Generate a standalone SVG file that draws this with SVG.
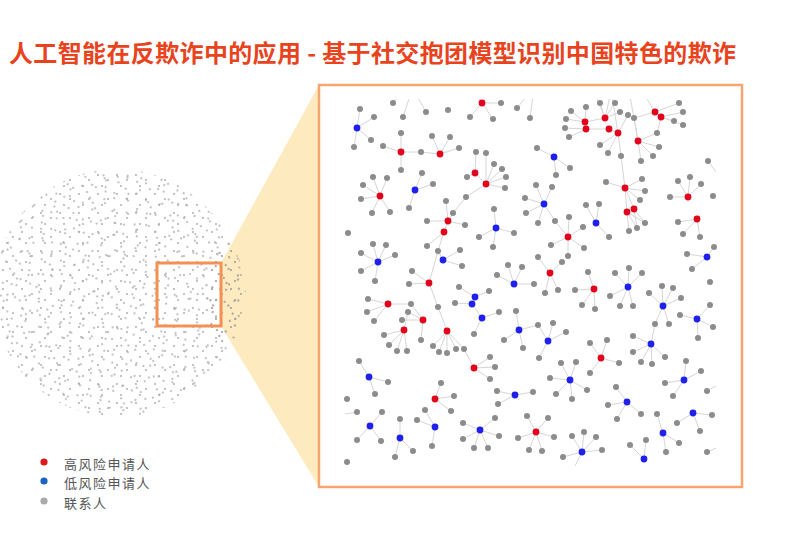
<svg xmlns="http://www.w3.org/2000/svg" width="800" height="534" viewBox="0 0 800 534">
<style>
.title{font-family:"Noto Sans CJK SC","Noto Sans CJK JP",sans-serif;font-size:24px;font-weight:700;fill:#e8431d}
.leg{font-family:"Noto Sans CJK SC","Noto Sans CJK JP",sans-serif;font-size:13px;fill:#555;letter-spacing:1.5px}
.e path{fill:none;stroke:#d6d6d6;stroke-width:1}
.g{fill:#8c8c8c}
.r{fill:#e2001a}
.b{fill:#2020ee}
.pd{fill:#aca6a4}
</style>
<defs>
<pattern id="pa" width="19" height="19" patternUnits="userSpaceOnUse">
<circle class="pd" cx="3" cy="4" r="0.9"/><circle class="pd" cx="13" cy="9" r="0.9"/><circle class="pd" cx="7" cy="15" r="0.9"/>
</pattern>
<pattern id="pb" width="26" height="26" patternUnits="userSpaceOnUse" patternTransform="rotate(31)">
<circle class="pd" cx="5" cy="2" r="0.9"/><circle class="pd" cx="18" cy="7" r="0.9"/><circle class="pd" cx="10" cy="13" r="0.9"/><circle class="pd" cx="23" cy="19" r="0.9"/><circle class="pd" cx="2" cy="22" r="0.9"/>
</pattern>
<pattern id="pc" width="33" height="33" patternUnits="userSpaceOnUse" patternTransform="rotate(-17)">
<circle class="pd" cx="4" cy="9" r="0.9"/><circle class="pd" cx="15" cy="3" r="0.9"/><circle class="pd" cx="27" cy="11" r="0.9"/><circle class="pd" cx="20" cy="20" r="0.9"/><circle class="pd" cx="8" cy="27" r="0.9"/><circle class="pd" cx="30" cy="29" r="0.9"/><circle class="pd" cx="12" cy="16" r="0.9"/>
</pattern>
<clipPath id="gc"><rect x="342" y="99" width="376" height="372"/></clipPath>
</defs>
<rect width="800" height="534" fill="#fff"/>
<text class="title" x="9" y="62" textLength="727" lengthAdjust="spacing">人工智能在反欺诈中的应用 - 基于社交抱团模型识别中国特色的欺诈</text>

<g id="cone"><polygon points="221,263 319,85 319,487 221,326" fill="#fdeabf"/></g>

<g id="overview">
<circle cx="117" cy="293" r="124" fill="url(#pa)"/>
<circle cx="117" cy="293" r="124" fill="url(#pb)"/>
<circle cx="117" cy="293" r="124" fill="url(#pc)"/>
<ellipse cx="226" cy="295" rx="20" ry="48" fill="url(#pa)"/>
<ellipse cx="226" cy="295" rx="20" ry="48" fill="url(#pb)"/>
<ellipse cx="226" cy="295" rx="20" ry="48" fill="url(#pc)"/>
<rect x="157" y="263" width="64" height="63" fill="none" stroke="#f39155" stroke-width="3"/>
</g>

<g id="zoom-frame"><rect x="319" y="85" width="423" height="402" fill="#fff" stroke="#f6a56e" stroke-width="2.5"/></g>

<g id="connectors" class="e" clip-path="url(#gc)">
<path d="M357 128L360 109M357 128L374 117M357 128L371 140M357 128L354 147"/>
<path d="M393 103L397 96M403 117L410 96M426 112L417 96"/>
<path d="M482 103L470 117M482 103L493 119M482 103L501 103M482 103L478 96M517 108L527 96M530 118L533 96"/>
<path d="M401 152L401 133M401 152L383 146M401 152L401 170M401 152L421 152"/>
<path d="M440 154L432 136M440 154L450 137M440 154L459 148M440 154L421 152"/>
<path d="M380 196L373 177M380 196L387 178M380 196L363 185M380 196L361 199M380 196L372 213M380 196L390 212"/>
<path d="M415 190L422 173M415 190L433 184M415 190L409 208"/>
<path d="M475 173L476 152M475 173L467 177M475 173L486 184M486 184L486 153M486 184L494 164M486 184L502 169M486 184L506 177M486 184L505 188M486 184L466 197L453 213L448 221"/>
<path d="M448 221L446 201M448 221L427 221M448 221L465 225M448 221L444 232L438 251L429 283M444 232L427 246"/>
<path d="M443 260L460 250M443 260L462 266M443 260L438 251"/>
<path d="M378 262L373 244M378 262L386 245M378 262L395 255M378 262L361 253M378 262L361 271M378 262L375 281"/>
<path d="M496 228L494 209M496 228L514 233M496 228L479 237M496 228L493 247"/>
<path d="M554 157L537 148M554 157L570 168M554 157L556 175"/>
<path d="M544 204L536 185M544 204L552 187M544 204L525 198M544 204L526 213M544 204L538 223M544 204L555 221L568 237"/>
<path d="M568 237L569 217M568 237L583 227M568 237L584 248M568 237L568 256M568 237L551 245"/>
<path d="M596 223L586 205M596 223L599 204M596 223L609 237"/>
<path d="M550 273L538 257M550 273L545 293M550 273L558 290M550 273L562 262"/>
<path d="M514 284L508 265M514 284L522 267M514 284L497 275M514 284L534 284"/>
<path d="M594 289L588 272M594 289L575 290M594 289L582 305M594 289L595 309"/>
<path d="M628 287L615 273M628 287L629 268M628 287L642 273M628 287L610 296M628 287L620 306M628 287L633 306"/>
<path d="M585 122L571 111M585 122L586 107M585 122L566 119M585 122L605 118M585 122L586 129M586 129L565 128M586 129L569 137M586 129L609 129M605 118L600 103M605 118L615 103M605 118L620 112M605 118L596 96M605 118L610 96M609 129L618 133M618 133L600 145M618 133L608 153M618 133L621 156M618 133L628 115M618 133L612 96M638 141L634 118M638 141L657 133M638 141L659 147M638 141L653 156M638 141L641 161M638 141L630 96M634 118L655 112M655 112L679 103M655 112L645 96M655 112L661 117M661 117L674 121M661 117L683 112M661 117L683 125M661 117L657 133M621 156L625 188"/>
<path d="M625 188L606 182M625 188L642 179M625 188L645 191M625 188L640 200M625 188L627 212M625 188L634 209M627 212L629 231M627 212L637 228M634 209L637 228M634 209L645 223M627 212L645 223"/>
<path d="M688 197L678 181M688 197L690 177M688 197L701 184M688 197L670 197"/>
<path d="M697 219L678 222M697 219L683 234M697 219L700 237M708 161L716 172"/>
<path d="M707 257L687 254M707 257L692 269M707 257L714 247"/>
<path d="M429 283L409 284M429 283L412 271M429 283L438 307L447 331"/>
<path d="M388 304L368 299M388 304L367 312M388 304L374 321M388 304L411 304"/>
<path d="M423 320L408 312M423 320L402 320M423 320L421 340M423 320L411 304"/>
<path d="M404 330L384 335M404 330L389 345M404 330L397 351M404 330L407 351M404 330L408 312"/>
<path d="M447 331L433 346M447 331L439 352M447 331L447 353M447 331L456 349M447 331L464 349L474 368"/>
<path d="M474 368L490 357M474 368L495 367M474 368L490 379"/>
<path d="M475 297L459 287M475 297L489 291M472 304L455 303M472 304L482 318M482 318L499 312M482 318L474 334M475 297L472 304"/>
<path d="M519 330L516 311M519 330L504 340M519 330L523 348M519 330L538 325"/>
<path d="M548 341L553 323M548 341L566 332M548 341L539 358M548 341L538 325"/>
<path d="M663 306L649 293M663 306L662 286M663 306L673 288M663 306L681 298M663 306L669 324M663 306L655 324L651 344"/>
<path d="M651 344L633 336M651 344L633 352M651 344L641 362M651 344L652 364M651 344L665 357"/>
<path d="M697 319L680 315M697 319L710 305M697 319L713 327M697 319L698 338"/>
<path d="M601 358L590 343M601 358L607 340M601 358L619 363M601 358L590 373"/>
<path d="M570 380L561 363M570 380L576 362M570 380L550 378M570 380L556 394M570 380L572 399M570 380L587 390"/>
<path d="M369 377L359 361M369 377L388 382M369 377L375 394"/>
<path d="M435 399L441 383M435 399L454 396M435 399L451 411"/>
<path d="M515 395L497 391M515 395L533 392M515 395L498 404"/>
<path d="M684 380L686 361M684 380L701 371M684 380L665 383M684 380L673 396M707 391L716 386"/>
<path d="M627 402L616 387M627 402L608 405M627 402L617 419M627 402L641 414"/>
<path d="M693 413L712 415M693 413L677 423M693 413L700 431"/>
<path d="M663 433L657 414M663 433L679 443M663 433L666 452"/>
<path d="M357 412L345 414M370 426L382 412M370 426L357 440M370 426L381 441"/>
<path d="M400 438L400 419M400 438L413 451M400 438L395 457"/>
<path d="M435 427L417 420M435 427L425 410M435 427L432 446"/>
<path d="M480 430L495 418M480 430L463 423M480 430L499 436M480 430L463 439M480 430L474 448M480 430L488 448"/>
<path d="M536 432L527 416M536 432L548 418M536 432L518 438M536 432L554 437M536 432L529 450M536 432L542 451"/>
<path d="M582 452L572 436M582 452L584 432M582 452L596 437M582 452L602 450M582 452L563 457M582 452L575 466"/>
<path d="M644 459L630 445M644 459L646 440M707 452L716 448"/>
</g>

<g id="nodes" clip-path="url(#gc)">
<g id="n01"><circle class="b" cx="357" cy="128" r="3.4"/><circle class="g" cx="360" cy="109" r="3"/><circle class="g" cx="374" cy="117" r="3"/><circle class="g" cx="371" cy="140" r="3"/><circle class="g" cx="354" cy="147" r="3"/></g>
<g id="n02"><circle class="g" cx="393" cy="103" r="3"/><circle class="g" cx="403" cy="117" r="3"/><circle class="g" cx="426" cy="112" r="3"/><circle class="g" cx="448" cy="110" r="3"/><circle class="g" cx="517" cy="108" r="3"/><circle class="g" cx="530" cy="118" r="3"/></g>
<g id="n03"><circle class="r" cx="482" cy="103" r="3.4"/><circle class="g" cx="470" cy="117" r="3"/><circle class="g" cx="493" cy="119" r="3"/><circle class="g" cx="501" cy="103" r="3"/></g>
<g id="n04"><circle class="r" cx="401" cy="152" r="3.4"/><circle class="g" cx="401" cy="133" r="3"/><circle class="g" cx="383" cy="146" r="3"/><circle class="g" cx="401" cy="170" r="3"/><circle class="g" cx="421" cy="152" r="3"/></g>
<g id="n05"><circle class="r" cx="440" cy="154" r="3.4"/><circle class="g" cx="432" cy="136" r="3"/><circle class="g" cx="450" cy="137" r="3"/><circle class="g" cx="459" cy="148" r="3"/></g>
<g id="n06"><circle class="r" cx="380" cy="196" r="3.4"/><circle class="g" cx="373" cy="177" r="3"/><circle class="g" cx="387" cy="178" r="3"/><circle class="g" cx="363" cy="185" r="3"/><circle class="g" cx="361" cy="199" r="3"/><circle class="g" cx="372" cy="213" r="3"/><circle class="g" cx="390" cy="212" r="3"/></g>
<g id="n07"><circle class="b" cx="415" cy="190" r="3.4"/><circle class="g" cx="422" cy="173" r="3"/><circle class="g" cx="433" cy="184" r="3"/><circle class="g" cx="409" cy="208" r="3"/></g>
<g id="n08"><circle class="g" cx="476" cy="152" r="3"/><circle class="g" cx="467" cy="177" r="3"/><circle class="g" cx="486" cy="153" r="3"/><circle class="g" cx="494" cy="164" r="3"/><circle class="g" cx="502" cy="169" r="3"/><circle class="g" cx="506" cy="177" r="3"/><circle class="g" cx="505" cy="188" r="3"/><circle class="g" cx="466" cy="197" r="3"/><circle class="g" cx="453" cy="213" r="3"/><circle class="r" cx="475" cy="173" r="3.4"/><circle class="r" cx="486" cy="184" r="3.4"/></g>
<g id="n09"><circle class="g" cx="446" cy="201" r="3"/><circle class="g" cx="427" cy="221" r="3"/><circle class="g" cx="465" cy="225" r="3"/><circle class="g" cx="427" cy="246" r="3"/><circle class="g" cx="438" cy="251" r="3"/><circle class="r" cx="448" cy="221" r="3.4"/><circle class="r" cx="444" cy="232" r="3.4"/></g>
<g id="n10"><circle class="b" cx="443" cy="260" r="3.4"/><circle class="g" cx="460" cy="250" r="3"/><circle class="g" cx="462" cy="266" r="3"/></g>
<g id="n11"><circle class="g" cx="348" cy="233" r="3"/></g>
<g id="n12"><circle class="b" cx="378" cy="262" r="3.4"/><circle class="g" cx="373" cy="244" r="3"/><circle class="g" cx="386" cy="245" r="3"/><circle class="g" cx="395" cy="255" r="3"/><circle class="g" cx="361" cy="253" r="3"/><circle class="g" cx="361" cy="271" r="3"/><circle class="g" cx="375" cy="281" r="3"/></g>
<g id="n13"><circle class="b" cx="496" cy="228" r="3.4"/><circle class="g" cx="494" cy="209" r="3"/><circle class="g" cx="514" cy="233" r="3"/><circle class="g" cx="479" cy="237" r="3"/><circle class="g" cx="493" cy="247" r="3"/></g>
<g id="n14"><circle class="b" cx="554" cy="157" r="3.4"/><circle class="g" cx="537" cy="148" r="3"/><circle class="g" cx="570" cy="168" r="3"/><circle class="g" cx="556" cy="175" r="3"/></g>
<g id="n15"><circle class="b" cx="544" cy="204" r="3.4"/><circle class="g" cx="536" cy="185" r="3"/><circle class="g" cx="552" cy="187" r="3"/><circle class="g" cx="525" cy="198" r="3"/><circle class="g" cx="526" cy="213" r="3"/><circle class="g" cx="538" cy="223" r="3"/><circle class="g" cx="555" cy="221" r="3"/></g>
<g id="n16"><circle class="r" cx="568" cy="237" r="3.4"/><circle class="g" cx="569" cy="217" r="3"/><circle class="g" cx="583" cy="227" r="3"/><circle class="g" cx="584" cy="248" r="3"/><circle class="g" cx="568" cy="256" r="3"/><circle class="g" cx="551" cy="245" r="3"/></g>
<g id="n17"><circle class="b" cx="596" cy="223" r="3.4"/><circle class="g" cx="586" cy="205" r="3"/><circle class="g" cx="599" cy="204" r="3"/><circle class="g" cx="609" cy="237" r="3"/></g>
<g id="n18"><circle class="r" cx="550" cy="273" r="3.4"/><circle class="g" cx="538" cy="257" r="3"/><circle class="g" cx="545" cy="293" r="3"/><circle class="g" cx="558" cy="290" r="3"/><circle class="g" cx="562" cy="262" r="3"/></g>
<g id="n19"><circle class="b" cx="514" cy="284" r="3.4"/><circle class="g" cx="508" cy="265" r="3"/><circle class="g" cx="522" cy="267" r="3"/><circle class="g" cx="497" cy="275" r="3"/><circle class="g" cx="534" cy="284" r="3"/></g>
<g id="n20"><circle class="r" cx="594" cy="289" r="3.4"/><circle class="g" cx="588" cy="272" r="3"/><circle class="g" cx="575" cy="290" r="3"/><circle class="g" cx="582" cy="305" r="3"/><circle class="g" cx="595" cy="309" r="3"/></g>
<g id="n21"><circle class="b" cx="628" cy="287" r="3.4"/><circle class="g" cx="615" cy="273" r="3"/><circle class="g" cx="629" cy="268" r="3"/><circle class="g" cx="642" cy="273" r="3"/><circle class="g" cx="610" cy="296" r="3"/><circle class="g" cx="620" cy="306" r="3"/><circle class="g" cx="633" cy="306" r="3"/></g>
<g id="n22"><circle class="g" cx="571" cy="111" r="3"/><circle class="g" cx="586" cy="107" r="3"/><circle class="g" cx="566" cy="119" r="3"/><circle class="g" cx="565" cy="128" r="3"/><circle class="g" cx="569" cy="137" r="3"/><circle class="g" cx="600" cy="103" r="3"/><circle class="g" cx="615" cy="103" r="3"/><circle class="g" cx="620" cy="112" r="3"/><circle class="g" cx="628" cy="115" r="3"/><circle class="g" cx="634" cy="118" r="3"/><circle class="g" cx="600" cy="145" r="3"/><circle class="g" cx="608" cy="153" r="3"/><circle class="g" cx="621" cy="156" r="3"/><circle class="g" cx="657" cy="133" r="3"/><circle class="g" cx="659" cy="147" r="3"/><circle class="g" cx="653" cy="156" r="3"/><circle class="g" cx="641" cy="161" r="3"/><circle class="g" cx="674" cy="121" r="3"/><circle class="g" cx="683" cy="112" r="3"/><circle class="g" cx="683" cy="125" r="3"/><circle class="g" cx="679" cy="103" r="3"/><circle class="r" cx="585" cy="122" r="3.4"/><circle class="r" cx="586" cy="129" r="3.4"/><circle class="r" cx="605" cy="118" r="3.4"/><circle class="r" cx="609" cy="129" r="3.4"/><circle class="r" cx="618" cy="133" r="3.4"/><circle class="r" cx="638" cy="141" r="3.4"/><circle class="r" cx="655" cy="112" r="3.4"/><circle class="r" cx="661" cy="117" r="3.4"/></g>
<g id="n23"><circle class="g" cx="606" cy="182" r="3"/><circle class="g" cx="642" cy="179" r="3"/><circle class="g" cx="645" cy="191" r="3"/><circle class="g" cx="640" cy="200" r="3"/><circle class="g" cx="629" cy="231" r="3"/><circle class="g" cx="637" cy="228" r="3"/><circle class="g" cx="645" cy="223" r="3"/><circle class="r" cx="625" cy="188" r="3.4"/><circle class="r" cx="627" cy="212" r="3.4"/><circle class="r" cx="634" cy="209" r="3.4"/></g>
<g id="n24"><circle class="r" cx="688" cy="197" r="3.4"/><circle class="g" cx="678" cy="181" r="3"/><circle class="g" cx="690" cy="177" r="3"/><circle class="g" cx="701" cy="184" r="3"/><circle class="g" cx="670" cy="197" r="3"/></g>
<g id="n25"><circle class="r" cx="697" cy="219" r="3.4"/><circle class="g" cx="678" cy="222" r="3"/><circle class="g" cx="683" cy="234" r="3"/><circle class="g" cx="700" cy="237" r="3"/><circle class="g" cx="708" cy="161" r="3"/><circle class="g" cx="713" cy="196" r="3"/></g>
<g id="n26"><circle class="b" cx="707" cy="257" r="3.4"/><circle class="g" cx="687" cy="254" r="3"/><circle class="g" cx="692" cy="269" r="3"/><circle class="g" cx="714" cy="247" r="3"/><circle class="g" cx="710" cy="282" r="3"/></g>
<g id="n27"><circle class="r" cx="429" cy="283" r="3.4"/><circle class="g" cx="409" cy="284" r="3"/><circle class="g" cx="412" cy="271" r="3"/><circle class="g" cx="438" cy="307" r="3"/></g>
<g id="n28"><circle class="g" cx="368" cy="299" r="3"/><circle class="g" cx="367" cy="312" r="3"/><circle class="g" cx="374" cy="321" r="3"/><circle class="g" cx="411" cy="304" r="3"/><circle class="r" cx="388" cy="304" r="3.4"/></g>
<g id="n29"><circle class="g" cx="408" cy="312" r="3"/><circle class="g" cx="402" cy="320" r="3"/><circle class="g" cx="421" cy="340" r="3"/><circle class="r" cx="423" cy="320" r="3.4"/></g>
<g id="n30"><circle class="g" cx="384" cy="335" r="3"/><circle class="g" cx="389" cy="345" r="3"/><circle class="g" cx="397" cy="351" r="3"/><circle class="g" cx="407" cy="351" r="3"/><circle class="r" cx="404" cy="330" r="3.4"/></g>
<g id="n31"><circle class="g" cx="433" cy="346" r="3"/><circle class="g" cx="439" cy="352" r="3"/><circle class="g" cx="447" cy="353" r="3"/><circle class="g" cx="456" cy="349" r="3"/><circle class="g" cx="464" cy="349" r="3"/><circle class="r" cx="447" cy="331" r="3.4"/></g>
<g id="n32"><circle class="r" cx="474" cy="368" r="3.4"/><circle class="g" cx="490" cy="357" r="3"/><circle class="g" cx="495" cy="367" r="3"/><circle class="g" cx="490" cy="379" r="3"/></g>
<g id="n33"><circle class="g" cx="459" cy="287" r="3"/><circle class="g" cx="489" cy="291" r="3"/><circle class="g" cx="455" cy="303" r="3"/><circle class="g" cx="499" cy="312" r="3"/><circle class="g" cx="474" cy="334" r="3"/><circle class="b" cx="475" cy="297" r="3.4"/><circle class="b" cx="472" cy="304" r="3.4"/><circle class="b" cx="482" cy="318" r="3.4"/></g>
<g id="n34"><circle class="b" cx="519" cy="330" r="3.4"/><circle class="g" cx="516" cy="311" r="3"/><circle class="g" cx="504" cy="340" r="3"/><circle class="g" cx="523" cy="348" r="3"/><circle class="g" cx="538" cy="325" r="3"/></g>
<g id="n35"><circle class="b" cx="548" cy="341" r="3.4"/><circle class="g" cx="553" cy="323" r="3"/><circle class="g" cx="566" cy="332" r="3"/><circle class="g" cx="539" cy="358" r="3"/></g>
<g id="n36"><circle class="b" cx="663" cy="306" r="3.4"/><circle class="g" cx="649" cy="293" r="3"/><circle class="g" cx="662" cy="286" r="3"/><circle class="g" cx="673" cy="288" r="3"/><circle class="g" cx="681" cy="298" r="3"/><circle class="g" cx="669" cy="324" r="3"/><circle class="g" cx="655" cy="324" r="3"/></g>
<g id="n37"><circle class="b" cx="651" cy="344" r="3.4"/><circle class="g" cx="633" cy="336" r="3"/><circle class="g" cx="633" cy="352" r="3"/><circle class="g" cx="641" cy="362" r="3"/><circle class="g" cx="652" cy="364" r="3"/><circle class="g" cx="665" cy="357" r="3"/></g>
<g id="n38"><circle class="b" cx="697" cy="319" r="3.4"/><circle class="g" cx="680" cy="315" r="3"/><circle class="g" cx="710" cy="305" r="3"/><circle class="g" cx="713" cy="327" r="3"/><circle class="g" cx="698" cy="338" r="3"/></g>
<g id="n39"><circle class="r" cx="601" cy="358" r="3.4"/><circle class="g" cx="590" cy="343" r="3"/><circle class="g" cx="607" cy="340" r="3"/><circle class="g" cx="619" cy="363" r="3"/><circle class="g" cx="590" cy="373" r="3"/></g>
<g id="n40"><circle class="b" cx="570" cy="380" r="3.4"/><circle class="g" cx="561" cy="363" r="3"/><circle class="g" cx="576" cy="362" r="3"/><circle class="g" cx="550" cy="378" r="3"/><circle class="g" cx="556" cy="394" r="3"/><circle class="g" cx="572" cy="399" r="3"/><circle class="g" cx="587" cy="390" r="3"/></g>
<g id="n41"><circle class="b" cx="369" cy="377" r="3.4"/><circle class="g" cx="359" cy="361" r="3"/><circle class="g" cx="388" cy="382" r="3"/><circle class="g" cx="375" cy="394" r="3"/><circle class="g" cx="347" cy="399" r="3"/></g>
<g id="n42"><circle class="r" cx="435" cy="399" r="3.4"/><circle class="g" cx="441" cy="383" r="3"/><circle class="g" cx="454" cy="396" r="3"/><circle class="g" cx="451" cy="411" r="3"/></g>
<g id="n43"><circle class="b" cx="515" cy="395" r="3.4"/><circle class="g" cx="497" cy="391" r="3"/><circle class="g" cx="533" cy="392" r="3"/><circle class="g" cx="498" cy="404" r="3"/></g>
<g id="n44"><circle class="b" cx="684" cy="380" r="3.4"/><circle class="g" cx="686" cy="361" r="3"/><circle class="g" cx="701" cy="371" r="3"/><circle class="g" cx="665" cy="383" r="3"/><circle class="g" cx="673" cy="396" r="3"/><circle class="g" cx="707" cy="391" r="3"/></g>
<g id="n45"><circle class="b" cx="627" cy="402" r="3.4"/><circle class="g" cx="616" cy="387" r="3"/><circle class="g" cx="608" cy="405" r="3"/><circle class="g" cx="617" cy="419" r="3"/><circle class="g" cx="641" cy="414" r="3"/></g>
<g id="n46"><circle class="b" cx="693" cy="413" r="3.4"/><circle class="g" cx="712" cy="415" r="3"/><circle class="g" cx="677" cy="423" r="3"/><circle class="g" cx="700" cy="431" r="3"/></g>
<g id="n47"><circle class="b" cx="663" cy="433" r="3.4"/><circle class="g" cx="657" cy="414" r="3"/><circle class="g" cx="679" cy="443" r="3"/><circle class="g" cx="666" cy="452" r="3"/></g>
<g id="n48"><circle class="b" cx="370" cy="426" r="3.4"/><circle class="g" cx="357" cy="412" r="3"/><circle class="g" cx="382" cy="412" r="3"/><circle class="g" cx="357" cy="440" r="3"/><circle class="g" cx="381" cy="441" r="3"/></g>
<g id="n49"><circle class="b" cx="400" cy="438" r="3.4"/><circle class="g" cx="400" cy="419" r="3"/><circle class="g" cx="413" cy="451" r="3"/><circle class="g" cx="395" cy="457" r="3"/></g>
<g id="n50"><circle class="b" cx="435" cy="427" r="3.4"/><circle class="g" cx="417" cy="420" r="3"/><circle class="g" cx="425" cy="410" r="3"/><circle class="g" cx="432" cy="446" r="3"/></g>
<g id="n51"><circle class="b" cx="480" cy="430" r="3.4"/><circle class="g" cx="495" cy="418" r="3"/><circle class="g" cx="463" cy="423" r="3"/><circle class="g" cx="499" cy="436" r="3"/><circle class="g" cx="463" cy="439" r="3"/><circle class="g" cx="474" cy="448" r="3"/><circle class="g" cx="488" cy="448" r="3"/></g>
<g id="n52"><circle class="r" cx="536" cy="432" r="3.4"/><circle class="g" cx="527" cy="416" r="3"/><circle class="g" cx="548" cy="418" r="3"/><circle class="g" cx="518" cy="438" r="3"/><circle class="g" cx="554" cy="437" r="3"/><circle class="g" cx="529" cy="450" r="3"/><circle class="g" cx="542" cy="451" r="3"/></g>
<g id="n53"><circle class="b" cx="582" cy="452" r="3.4"/><circle class="g" cx="572" cy="436" r="3"/><circle class="g" cx="584" cy="432" r="3"/><circle class="g" cx="596" cy="437" r="3"/><circle class="g" cx="602" cy="450" r="3"/><circle class="g" cx="563" cy="457" r="3"/></g>
<g id="n54"><circle class="b" cx="644" cy="459" r="3.4"/><circle class="g" cx="630" cy="445" r="3"/><circle class="g" cx="646" cy="440" r="3"/></g>
<g id="n55"><circle class="g" cx="347" cy="462" r="3"/><circle class="g" cx="707" cy="452" r="3"/></g>
</g>

<g id="legend">
<circle cx="44" cy="462" r="3.6" fill="#e0161e"/>
<text class="leg" x="64" y="469">高风险申请人</text>
<circle cx="44" cy="481" r="3.6" fill="#1a62c4"/>
<text class="leg" x="64" y="488">低风险申请人</text>
<circle cx="44" cy="501" r="3.6" fill="#aaa"/>
<text class="leg" x="64" y="508">联系人</text>
</g>
</svg>
